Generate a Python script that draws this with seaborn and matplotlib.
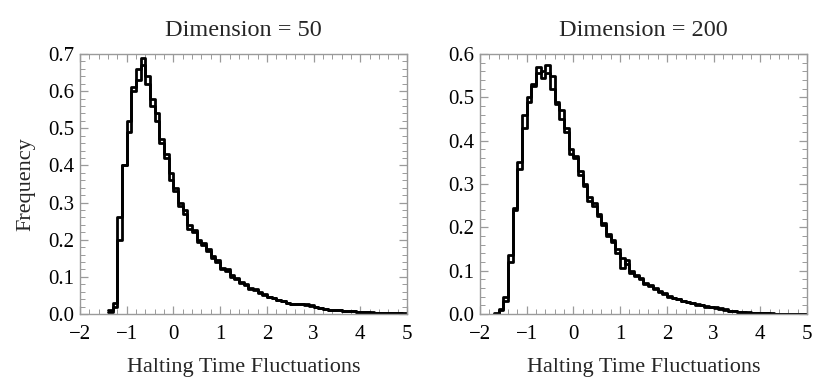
import numpy as np
import pandas as pd
import seaborn as sns
import matplotlib.pyplot as plt
from matplotlib.ticker import MultipleLocator, FormatStrFormatter

# bin width 0.1 for both panels
width = 0.1

# Dimension = 50 : bins start at -1.4
start_50 = -1.4
freq_50_a = [0.01, 0.03, 0.20, 0.40, 0.52, 0.61, 0.66, 0.69, 0.62, 0.58,
             0.52, 0.47, 0.42, 0.38, 0.33, 0.30, 0.27, 0.24, 0.22, 0.20,
             0.19, 0.17, 0.155, 0.14, 0.125, 0.115, 0.105, 0.095, 0.087, 0.078,
             0.071, 0.065, 0.058, 0.052, 0.047, 0.043, 0.038, 0.034, 0.030, 0.028,
             0.027, 0.028, 0.026, 0.022, 0.019, 0.016, 0.014, 0.012, 0.011, 0.010,
             0.009, 0.009, 0.007, 0.006, 0.005, 0.004, 0.004, 0.003, 0.003, 0.003,
             0.002, 0.003, 0.002, 0.002]
freq_50_b = [0.005, 0.02, 0.26, 0.40, 0.49, 0.60, 0.63, 0.67, 0.64, 0.56,
             0.54, 0.46, 0.43, 0.36, 0.34, 0.29, 0.28, 0.23, 0.225, 0.195,
             0.185, 0.175, 0.15, 0.145, 0.12, 0.12, 0.10, 0.098, 0.084, 0.08,
             0.068, 0.066, 0.056, 0.054, 0.045, 0.044, 0.037, 0.035, 0.029, 0.026,
             0.028, 0.027, 0.025, 0.023, 0.018, 0.017, 0.013, 0.012, 0.010, 0.011,
             0.008, 0.008, 0.007, 0.005, 0.005, 0.004, 0.003, 0.003, 0.002, 0.003,
             0.002, 0.002, 0.002, 0.001]

# Dimension = 200 : bins start at -1.7
start_200 = -1.7
freq_200_a = [0.003, 0.01, 0.04, 0.135, 0.24, 0.335, 0.43, 0.50, 0.525, 0.555,
              0.56, 0.575, 0.52, 0.485, 0.45, 0.42, 0.38, 0.36, 0.33, 0.30,
              0.27, 0.25, 0.23, 0.21, 0.185, 0.165, 0.15, 0.13, 0.115, 0.10,
              0.09, 0.08, 0.072, 0.066, 0.058, 0.052, 0.047, 0.042, 0.038, 0.034,
              0.031, 0.028, 0.025, 0.022, 0.020, 0.018, 0.016, 0.015, 0.013, 0.010,
              0.008, 0.006, 0.005, 0.004, 0.004, 0.003, 0.003, 0.002, 0.002, 0.002,
              0.001, 0.001, 0.001, 0.001, 0.001, 0.001, 0.001]
freq_200_b = [0.0, 0.012, 0.03, 0.12, 0.245, 0.35, 0.46, 0.49, 0.53, 0.57,
              0.545, 0.555, 0.55, 0.49, 0.47, 0.43, 0.37, 0.365, 0.32, 0.295,
              0.26, 0.255, 0.225, 0.205, 0.18, 0.17, 0.14, 0.105, 0.125, 0.095,
              0.088, 0.082, 0.07, 0.064, 0.06, 0.05, 0.048, 0.04, 0.036, 0.035,
              0.03, 0.027, 0.026, 0.021, 0.021, 0.017, 0.017, 0.014, 0.012, 0.011,
              0.007, 0.006, 0.004, 0.004, 0.003, 0.003, 0.002, 0.002, 0.002, 0.001,
              0.001, 0.001, 0.001, 0.001, 0.001, 0.001, 0.001]


sns.set_style('ticks')
plt.rcParams['font.family'] = ['Liberation Serif', 'DejaVu Serif']

fig, axes = plt.subplots(1, 2, figsize=(8.3, 3.91), dpi=100)
plt.subplots_adjust(left=0.0964, right=0.9723, bottom=0.197, top=0.862, wspace=0.223)

panels = [
    (axes[0], 'Dimension = 50', start_50, [freq_50_a, freq_50_b], 0.7),
    (axes[1], 'Dimension = 200', start_200, [freq_200_a, freq_200_b], 0.6),
]

frame = '#9a9a9a'
for ax, title, start, runs, ymax in panels:
    for vals in runs:
        centers = start + width * (np.arange(len(vals)) + 0.5)
        edges = (start + width * np.arange(len(vals) + 1)).tolist()
        df = pd.DataFrame({'x': centers, 'freq': vals})
        sns.histplot(data=df, x='x', weights='freq', bins=edges,
                     element='step', fill=False, stat='count',
                     color='black', linewidth=2.0, ax=ax)
    ax.set_xlim(-2, 5)
    ax.set_ylim(0, ymax)
    ax.xaxis.set_major_locator(MultipleLocator(1))
    ax.xaxis.set_minor_locator(MultipleLocator(0.2))
    ax.yaxis.set_major_locator(MultipleLocator(0.1))
    ax.yaxis.set_minor_locator(MultipleLocator(0.02))
    ax.yaxis.set_major_formatter(FormatStrFormatter('%.1f'))
    for s in ax.spines.values():
        s.set_visible(True)
        s.set_color(frame)
        s.set_linewidth(1.0)
    ax.tick_params(which='both', direction='in', top=True, right=True,
                   color=frame, labelcolor='black', labelsize=15)
    ax.tick_params(axis='x', which='major', pad=8)
    ax.tick_params(axis='y', which='major', pad=4)
    ax.tick_params(which='major', length=6, width=0.9)
    ax.tick_params(which='minor', length=3.5, width=0.7)
    ax.set_title(title, fontsize=17.5, pad=13)
    ax.set_xlabel('Halting Time Fluctuations', fontsize=16, labelpad=10)
    ax.set_ylabel('Frequency' if ax is axes[0] else '', fontsize=16, labelpad=9)

fig.savefig('out.png', dpi=100)
